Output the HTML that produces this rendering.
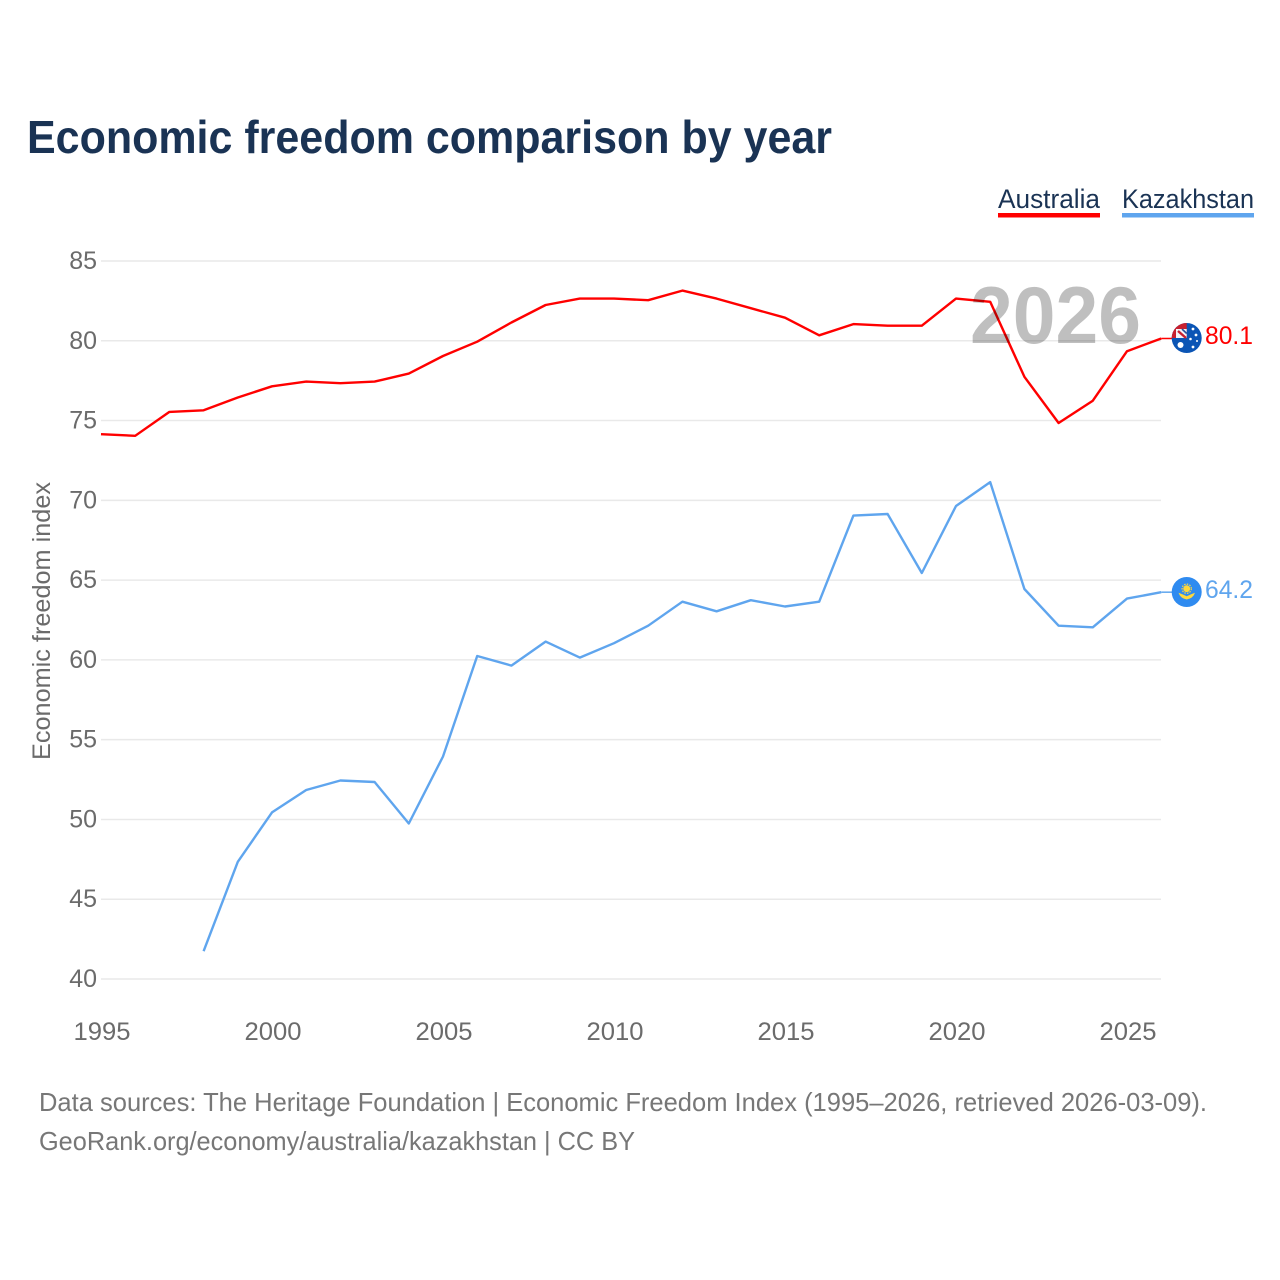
<!DOCTYPE html>
<html lang="en">
<head>
<meta charset="utf-8">
<title>Economic freedom comparison by year</title>
<style>
html,body{margin:0;padding:0;background:#fff;}
svg{display:block;font-family:"Liberation Sans",sans-serif;}
</style>
</head>
<body>
<svg id="chart" width="1280" height="1280" viewBox="0 0 1280 1280" xmlns="http://www.w3.org/2000/svg">
  <defs>
    <clipPath id="flag-clip-au"><circle cx="1186.7" cy="338" r="15"/></clipPath>
    <clipPath id="flag-clip-kz"><circle cx="1186.7" cy="592" r="15"/></clipPath>
  </defs>
  <rect width="1280" height="1280" fill="#fff"/>
  <text x="27" y="153" font-size="46" font-weight="700" fill="#1a3354" textLength="805" lengthAdjust="spacingAndGlyphs">Economic freedom comparison by year</text>

  <g>
    <g>
      <text x="998" y="208" font-size="27" fill="#1a3354" textLength="102" lengthAdjust="spacingAndGlyphs">Australia</text>
      <rect x="998" y="213" width="102" height="4.5" fill="#ff0000"/>
    </g>
    <g>
      <text x="1122" y="208" font-size="27" fill="#1a3354" textLength="132" lengthAdjust="spacingAndGlyphs">Kazakhstan</text>
      <rect x="1122" y="213" width="132" height="4.5" fill="#5fa5ee"/>
    </g>
  </g>

  <g id="grid"></g>
  <g id="y-ticks"></g>
  <g id="x-ticks"></g>

  <text transform="translate(50,621) rotate(-90)" text-anchor="middle" font-size="25" fill="#6b6b6b" textLength="278" lengthAdjust="spacingAndGlyphs">Economic freedom index</text>

  <g id="series" transform="translate(0,-0.7)"></g>

  <text x="970" y="343" font-size="81" font-weight="700" fill="#000" fill-opacity="0.25" textLength="171" lengthAdjust="spacingAndGlyphs">2026</text>

  <g clip-path="url(#flag-clip-au)">
    <rect x="1170" y="321" width="34" height="34" fill="#0b55b5"/>
    <path d="M1171 323H1186.7V338H1171Z" fill="#c8202f"/>
    <path d="M1176 329H1186.7V338H1176Z" fill="#f4f4f8"/>
    <path d="M1178 331L1186 338" stroke="#c8202f" stroke-width="2.4"/>
    <path d="M1182 329L1186.7 333.5" stroke="#27509b" stroke-width="1.6"/>
    <circle cx="1180.5" cy="345" r="3" fill="#fff"/>
    <circle cx="1193" cy="347" r="1.4" fill="#fff"/>
    <circle cx="1196" cy="335" r="1.4" fill="#fff"/>
    <circle cx="1190.5" cy="339" r="1.3" fill="#fff"/>
    <circle cx="1197" cy="341" r="1" fill="#fff"/>
    <circle cx="1193" cy="329" r="1.4" fill="#fff"/>
  </g>
  <g clip-path="url(#flag-clip-kz)">
    <rect x="1170" y="575" width="34" height="34" fill="#2f8bf0"/>
    <circle cx="1186.7" cy="588.7" r="3.4" fill="#ffd83b"/>
    <circle cx="1186.7" cy="588.7" r="4.6" fill="none" stroke="#ffd83b" stroke-width="1.2" stroke-dasharray="1.5 1.2"/>
    <path d="M1178.5 592.8Q1183 594.5 1186.7 596.2Q1190.5 594.5 1195 592.8Q1193 598.5 1186.7 599.5Q1180.5 598.5 1178.5 592.8Z" fill="#ffd83b"/>
  </g>

  <text x="1205" y="344" font-size="25" fill="#ff0000" textLength="48" lengthAdjust="spacingAndGlyphs">80.1</text>
  <text x="1205" y="598" font-size="25" fill="#5fa5ee" textLength="48" lengthAdjust="spacingAndGlyphs">64.2</text>

  <text x="39" y="1111" font-size="26" fill="#777" textLength="1168" lengthAdjust="spacingAndGlyphs">Data sources: The Heritage Foundation | Economic Freedom Index (1995–2026, retrieved 2026-03-09).</text>
  <text x="39" y="1150" font-size="26" fill="#777" textLength="596" lengthAdjust="spacingAndGlyphs">GeoRank.org/economy/australia/kazakhstan | CC BY</text>
</svg>
<script>
const yTickValues = [40, 45, 50, 55, 60, 65, 70, 75, 80, 85];
const xTickValues = [1995, 2000, 2005, 2010, 2015, 2020, 2025];
const australiaYears = [1995,1996,1997,1998,1999,2000,2001,2002,2003,2004,2005,2006,2007,2008,2009,2010,2011,2012,2013,2014,2015,2016,2017,2018,2019,2020,2021,2022,2023,2024,2025,2026];
const australiaValues = [74.1,74.0,75.5,75.6,76.4,77.1,77.4,77.3,77.4,77.9,79.0,79.9,81.1,82.2,82.6,82.6,82.5,83.1,82.6,82.0,81.4,80.3,81.0,80.9,80.9,82.6,82.4,77.7,74.8,76.2,79.3,80.1];
const kazakhstanYears = [1998,1999,2000,2001,2002,2003,2004,2005,2006,2007,2008,2009,2010,2011,2012,2013,2014,2015,2016,2017,2018,2019,2020,2021,2022,2023,2024,2025,2026];
const kazakhstanValues = [41.7,47.3,50.4,51.8,52.4,52.3,49.7,53.9,60.2,59.6,61.1,60.1,61.0,62.1,63.6,63.0,63.7,63.3,63.6,69.0,69.1,65.4,69.6,71.1,64.4,62.1,62.0,63.8,64.2];

const NS = 'http://www.w3.org/2000/svg';
function xScale(year) { return 101 + (year - 1995) * (1161.2 - 101) / 31; }
function yScale(v) { return 979 - (v - 40) * (979 - 261) / 45; }

const grid = document.getElementById('grid');
const yTicks = document.getElementById('y-ticks');
const xTicks = document.getElementById('x-ticks');
const seriesGroup = document.getElementById('series');

yTickValues.forEach(function (v) {
  const line = document.createElementNS(NS, 'line');
  
  
  line.setAttribute('x1', 101);
  line.setAttribute('x2', 1161);
  line.setAttribute('y1', yScale(v));
  line.setAttribute('y2', yScale(v));
  line.setAttribute('stroke', '#e9e9e9');
  line.setAttribute('stroke-width', '1.5');
  grid.appendChild(line);

  const label = document.createElementNS(NS, 'text');
  
  
  label.setAttribute('x', 97);
  label.setAttribute('y', yScale(v) + 8);
  label.setAttribute('text-anchor', 'end');
  label.setAttribute('font-size', '25');
  label.setAttribute('fill', '#6b6b6b');
  label.textContent = v;
  yTicks.appendChild(label);
});

xTickValues.forEach(function (year) {
  const label = document.createElementNS(NS, 'text');
  
  
  label.setAttribute('x', xScale(year) + 1);
  label.setAttribute('y', 1040);
  label.setAttribute('text-anchor', 'middle');
  label.setAttribute('font-size', '25');
  label.setAttribute('fill', '#6b6b6b');
  label.setAttribute('textLength', '57');
  label.setAttribute('lengthAdjust', 'spacingAndGlyphs');
  label.textContent = year;
  xTicks.appendChild(label);
});

function drawSeries(name, years, values, color) {
  const pts = years.map(function (year, i) {
    return xScale(year).toFixed(1) + ',' + yScale(values[i]).toFixed(1);
  });
  const line = document.createElementNS(NS, 'polyline');
  
  
  line.setAttribute('points', pts.join(' '));
  line.setAttribute('fill', 'none');
  line.setAttribute('stroke', color);
  line.setAttribute('stroke-width', '2.4');
  line.setAttribute('stroke-linejoin', 'round');
  seriesGroup.appendChild(line);

  const lastY = yScale(values[values.length - 1]);
  const connector = document.createElementNS(NS, 'line');
  
  
  connector.setAttribute('x1', xScale(years[years.length - 1]));
  connector.setAttribute('x2', 1172);
  connector.setAttribute('y1', lastY);
  connector.setAttribute('y2', lastY);
  connector.setAttribute('stroke', color);
  connector.setAttribute('stroke-width', '1.5');
  seriesGroup.appendChild(connector);
}

drawSeries('australia', australiaYears, australiaValues, '#ff0000');
drawSeries('kazakhstan', kazakhstanYears, kazakhstanValues, '#5fa5ee');
</script>
</body>
</html>
